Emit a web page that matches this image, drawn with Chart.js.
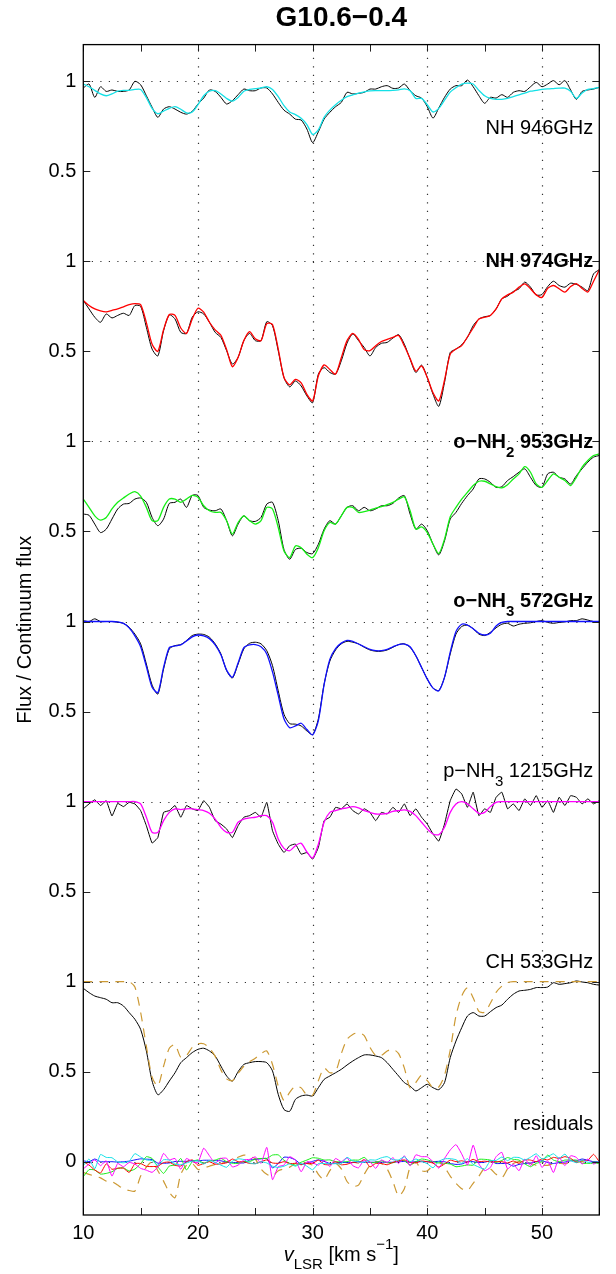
<!DOCTYPE html>
<html>
<head>
<meta charset="utf-8">
<script src="https://cdn.jsdelivr.net/npm/chart.js@4.4.0/dist/chart.umd.min.js"></script>
<style>
	body { margin: 0; background: #fff; }
	canvas { display: block; }
</style>
</head>
<body>
<canvas id="spectra" width="616" height="1274"></canvas>
<script>
const FONT = "'Liberation Sans', Arial, Helvetica, sans-serif";

// velocity grid (km/s)
const velocity = [
	10, 10.5, 11, 11.5, 12, 12.5, 13, 13.5, 14, 14.5,
	15, 15.5, 16, 16.5, 17, 17.5, 18, 18.5, 19, 19.5,
	20, 20.5, 21, 21.5, 22, 22.5, 23, 23.5, 24, 24.5,
	25, 25.5, 26, 26.5, 27, 27.5, 28, 28.5, 29, 29.5,
	30, 30.5, 31, 31.5, 32, 32.5, 33, 33.5, 34, 34.5,
	35, 35.5, 36, 36.5, 37, 37.5, 38, 38.5, 39, 39.5,
	40, 40.5, 41, 41.5, 42, 42.5, 43, 43.5, 44, 44.5,
	45, 45.5, 46, 46.5, 47, 47.5, 48, 48.5, 49, 49.5,
	50, 50.5, 51, 51.5, 52, 52.5, 53, 53.5, 54, 54.5,
	55
];

// NH 946GHz
const nh946Obs = [
	.963, .985, .911, .97, .944, .952, .944, .944, .952, 1.0,
	.981, .92, .856, .80, .846, .859, .846, .828, .818, .833,
	.874, .907, .952, .944, .911, .874, .893, .926, .957, .948,
	.948, .963, .963, .93, .883, .84, .818, .79, .785, .735,
	.66, .72, .79, .828, .859, .883, .939, .93, .933, .939,
	.957, .957, .97, .976, .961, .963, .985, .948, .92, .907,
	.859, .796, .852, .911, .957, .976, .976, 1.007, .97, .92,
	.878, .911, .907, .926, .911, .939, .948, .944, .97, .994,
	.97, .985, 1.004, .981, 1.004, .952, .90, .944, .952, .957,
	.967
];
const nh946Fit = [
	.985, .97, .95, .93, .92, .93, .945, .95, .95, .955,
	.955, .91, .85, .82, .835, .85, .86, .845, .825, .83,
	.87, .92, .945, .948, .93, .905, .89, .91, .945, .955,
	.96, .963, .97, .955, .915, .865, .83, .815, .795, .76,
	.705, .73, .80, .84, .87, .895, .915, .925, .935, .942,
	.947, .948, .948, .948, .95, .953, .958, .948, .905, .905,
	.87, .83, .85, .895, .94, .965, .985, .99, .985, .95,
	.92, .905, .90, .90, .905, .915, .925, .935, .945, .95,
	.955, .958, .96, .962, .962, .945, .905, .935, .955, .96,
	.967
];

// NH 974GHz
const nh974Obs = [
	.783, .736, .69, .662, .708, .686, .70, .712, .70, .755,
	.75, .634, .513, .475, .615, .703, .68, .606, .60, .69,
	.72, .708, .662, .606, .578, .504, .43, .467, .56, .60,
	.56, .56, .665, .643, .504, .355, .303, .336, .308, .253,
	.215, .374, .41, .383, .374, .448, .546, .597, .56, .522,
	.475, .522, .545, .55, .574, .593, .54, .457, .383, .424,
	.355, .262, .195, .327, .494, .513, .537, .578, .643, .68,
	.693, .699, .736, .792, .807, .833, .848, .885, .857, .814,
	.816, .86, .89, .866, .857, .879, .872, .857, .838, .931,
	.954
];
const nh974Fit = [
	.783, .755, .736, .725, .72, .728, .736, .748, .76, .766,
	.76, .66, .54, .50, .62, .705, .70, .63, .60, .68,
	.74, .718, .662, .62, .59, .51, .415, .467, .56, .61,
	.57, .56, .655, .65, .513, .355, .314, .345, .325, .262,
	.225, .365, .425, .40, .374, .465, .56, .60, .567, .51,
	.504, .532, .555, .567, .578, .588, .53, .46, .39, .42,
	.355, .27, .225, .34, .485, .513, .532, .58, .63, .68,
	.69, .70, .736, .792, .814, .829, .857, .875, .848, .814,
	.80, .85, .866, .848, .829, .86, .877, .85, .83, .89,
	.954
];

// o-NH2 953GHz
const oNH2Obs = [
	.597, .59, .541, .494, .513, .569, .625, .652, .656, .68,
	.686, .662, .578, .532, .569, .656, .662, .68, .634, .70,
	.70, .634, .619, .615, .625, .56, .476, .541, .587, .56,
	.556, .578, .652, .662, .56, .40, .346, .40, .407, .383,
	.377, .429, .513, .56, .541, .587, .634, .643, .615, .634,
	.615, .625, .643, .643, .656, .686, .699, .597, .513, .541,
	.504, .429, .37, .448, .569, .606, .656, .699, .736, .792,
	.792, .773, .745, .749, .783, .805, .829, .848, .801, .755,
	.745, .82, .829, .801, .792, .764, .81, .848, .885, .913,
	.922
];
const oNH2Fit = [
	.68, .634, .587, .563, .578, .625, .662, .686, .708, .721,
	.697, .634, .56, .56, .634, .68, .68, .662, .68, .70,
	.69, .643, .615, .606, .606, .56, .485, .55, .587, .56,
	.541, .56, .634, .625, .522, .392, .355, .42, .41, .374,
	.355, .41, .504, .55, .541, .587, .634, .634, .606, .61,
	.619, .63, .638, .649, .662, .68, .693, .615, .513, .526,
	.494, .429, .377, .457, .582, .634, .68, .717, .755, .779,
	.779, .764, .749, .742, .76, .792, .82, .86, .829, .764,
	.745, .783, .82, .801, .783, .755, .801, .857, .894, .922,
	.931
];

// o-NH3 572GHz
const oNH3Obs = [
	1.005, 1.0, 1.015, 1.0, 1.0, 1.0, .996, .99, .968, .93,
	.876, .764, .647, .597, .736, .848, .866, .872, .894, .922,
	.93, .928, .913, .876, .82, .727, .686, .764, .848, .879,
	.885, .876, .838, .755, .615, .485, .433, .43, .42, .392,
	.372, .46, .652, .78, .842, .876, .89, .885, .876, .857,
	.842, .835, .835, .842, .857, .872, .876, .857, .81, .745,
	.68, .63, .617, .69, .82, .93, .972, .98, .96, .93,
	.922, .94, .965, .985, .99, .975, .985, .99, .993, 1.0,
	1.005, .995, .99, .995, .998, 1.005, 1.005, 1.015, 1.008, 1.0,
	1.0
];
const oNH3Fit = [
	1, 1, 1, 1, 1, 1, .998, .99, .965, .92,
	.86, .75, .635, .605, .745, .855, .865, .87, .892, .915,
	.925, .92, .905, .87, .815, .73, .69, .77, .855, .87,
	.872, .86, .82, .72, .59, .46, .41, .42, .435, .40,
	.37, .45, .65, .79, .85, .88, .895, .89, .875, .86,
	.845, .838, .838, .845, .86, .872, .875, .86, .81, .745,
	.68, .63, .615, .69, .83, .945, .985, .98, .96, .935,
	.925, .935, .975, .995, 1, 1, 1, 1, 1, 1,
	1, 1, 1, 1, 1, 1, 1, 1, 1, 1,
	1
];

// p-NH3 1215GHz
const pNH3Obs = [
	.96, .987, 1.01, .978, 1.005, .92, .99, .972, .996, .987,
	.95, .866, .77, .80, .94, .95, .978, .913, .978, .96,
	.95, 1.005, .968, .894, .875, .848, .80, .866, .913, .922,
	.94, .913, .996, .838, .764, .717, .755, .764, .708, .717,
	.68, .745, .894, .913, .968, .96, .987, .95, .931, .96,
	.94, .894, .94, .931, .968, .94, .987, .922, .96, .913,
	.875, .82, .78, .875, 1.005, 1.07, 1.043, .968, 1.052, .922,
	.96, .94, 1.024, 1.052, .96, .987, .95, 1.015, .978, 1.033,
	.968, 1.005, .94, 1.024, .978, 1.033, 1.024, .987, 1.015, .987,
	1.005
];
const pNH3Fit = [
	1, 1, 1, 1, 1, 1, 1, 1, 1, 1,
	.987, .913, .829, .829, .894, .94, .96, .955, .96, .96,
	.955, .95, .935, .903, .857, .829, .829, .885, .903, .909,
	.913, .922, .922, .885, .792, .74, .727, .755, .768, .72,
	.686, .764, .885, .94, .95, .96, .965, .972, .965, .95,
	.94, .931, .931, .935, .946, .95, .954, .946, .922, .885,
	.848, .82, .816, .857, .94, .987, 1.0, .987, .96, .935,
	.94, .972, .996, 1, 1, 1, 1, 1, 1, 1,
	1, 1, 1, 1, 1, 1, 1, 1, 1, 1,
	1
];

// CH 533GHz
const chObs = [
	.963, .939, .92, .911, .902, .883, .883, .865, .828, .791,
	.735, .615, .448, .372, .40, .448, .494, .55, .578, .606,
	.624, .63, .615, .587, .531, .476, .448, .50, .54, .55,
	.556, .556, .55, .504, .374, .29, .28, .346, .365, .37,
	.365, .411, .457, .476, .494, .513, .537, .559, .578, .593,
	.593, .587, .578, .55, .513, .476, .439, .42, .393, .411,
	.43, .411, .40, .439, .578, .67, .744, .809, .828, .809,
	.809, .833, .856, .87, .902, .93, .948, .952, .957, .967,
	.967, .97, .994, .985, .989, .994, 1.004, .998, .994, .985,
	.981
];
const chFit = [
	1, 1, 1, 1, 1, 1, 1, 1, 1, .97,
	.83, .64, .47, .42, .53, .63, .65, .58, .59, .635,
	.655, .655, .63, .585, .51, .46, .45, .49, .53, .555,
	.575, .60, .615, .54, .42, .34, .385, .42, .41, .37,
	.37, .45, .52, .494, .50, .60, .68, .707, .717, .70,
	.635, .59, .59, .615, .625, .60, .52, .41, .44, .48,
	.45, .41, .415, .48, .62, .81, .92, .965, .91, .835,
	.83, .88, .94, .975, .995, 1, 1, 1, 1, 1,
	1, 1, 1, 1, 1, 1, 1, 1, 1, 1,
	1
];

// residuals
const resNH946 = [
	-.022, .015, -.039, .04, .024, .022, -.001, -.006, .002, .045,
	.026, .01, .006, -.02, .011, .009, -.014, -.017, -.007, .003,
	.004, -.013, .007, -.004, -.019, -.031, .003, .016, .012, -.007,
	-.012, 0, -.007, -.025, -.032, -.025, -.012, -.025, -.01, -.025,
	-.045, -.01, -.01, -.012, -.011, -.012, .024, .005, -.002, -.003,
	.01, .009, .022, .028, .011, .01, .027, 0, .015, .002,
	-.011, -.034, .002, .016, .017, .011, -.009, .017, -.015, -.03,
	-.042, .006, .007, .026, .006, .024, .023, .009, .025, .044,
	.015, .027, .044, .019, .042, .007, -.005, .009, -.003, -.003,
	0
];
const resNH974 = [
	0, -.019, -.046, -.063, -.012, -.042, -.036, -.036, -.06, -.011,
	-.01, -.026, -.027, -.025, -.005, -.002, -.02, -.024, 0, .01,
	-.02, -.01, 0, -.014, -.012, -.006, .015, 0, 0, -.01,
	-.01, 0, .01, -.007, -.009, 0, -.011, -.009, -.017, -.009,
	-.01, .009, -.015, -.017, 0, -.017, -.014, -.003, -.007, .012,
	-.029, -.01, -.01, -.017, -.004, .005, .01, -.003, -.007, .004,
	0, -.008, -.03, -.013, .009, 0, .005, -.002, .013, 0,
	.003, -.001, 0, 0, -.007, .004, -.009, .01, .009, 0,
	.016, .01, .024, .018, .028, .019, -.005, .007, .008, .041,
	0
];
const resONH2 = [
	-.083, -.044, -.046, -.069, -.065, -.056, -.037, -.034, -.052, -.041,
	-.011, .028, .018, -.028, -.065, -.024, -.018, .018, -.046, 0,
	.01, -.009, .004, .009, .019, 0, -.009, -.009, 0, 0,
	.015, .018, .018, .037, .038, .008, -.009, -.02, -.003, .009,
	.022, .019, .009, .01, 0, 0, 0, .009, .009, .024,
	-.004, -.005, .005, -.006, -.006, .006, .006, -.018, 0, .015,
	.01, 0, -.007, -.009, -.013, -.028, -.024, -.018, -.019, .013,
	.013, .009, -.004, .007, .023, .013, .009, -.012, -.028, -.009,
	0, .037, .009, 0, .009, .009, .009, -.009, -.009, -.009,
	-.009
];
const resONH3 = [
	.005, 0, .015, 0, 0, 0, -.002, 0, .003, .01,
	.016, .014, .012, -.008, -.009, -.007, .001, .002, .002, .007,
	.005, .008, .008, .006, .005, -.003, -.004, -.006, -.007, .009,
	.013, .016, .018, -.035, -.01, .025, .023, .01, -.015, -.008,
	.002, .01, .002, -.01, -.008, -.004, -.005, -.005, .001, -.003,
	-.003, -.003, -.003, -.003, -.003, 0, .001, -.003, 0, 0,
	0, 0, .002, 0, -.01, -.015, -.013, 0, 0, -.005,
	-.003, .005, -.01, -.01, -.01, -.025, -.015, -.01, -.007, 0,
	.005, -.005, -.01, -.005, -.002, .005, .005, .015, .008, 0,
	0
];
const resPNH3 = [
	-.04, -.013, .01, -.022, .005, -.08, -.01, -.028, -.004, -.013,
	-.037, -.047, -.059, -.029, .046, .01, .018, -.042, .018, 0,
	-.005, .075, .033, -.009, .018, .019, -.029, -.019, .01, .013,
	.027, -.009, .08, -.10, -.028, -.019, .028, .009, -.056, 0,
	-.006, -.019, .009, -.027, .018, 0, .022, -.022, -.034, .01,
	0, -.037, .009, -.004, .022, -.01, .033, -.024, .038, .028,
	.027, 0, -.036, .018, .065, .095, .043, -.019, .092, -.013,
	-.05, -.032, .028, .052, -.04, -.013, -.05, .015, -.022, .033,
	-.032, .005, -.06, .024, -.022, .033, .024, -.013, .015, -.013,
	.005
];
const resCH = [
	-.06, -.07, -.08, -.09, -.108, -.11, -.13, -.15, -.16, -.163,
	-.08, -.03, 0, -.05, -.108, -.17, -.20, -.07, -.02, -.01,
	-.043, -.035, -.025, -.015, -.01, 0, .01, .025, .037, .03,
	.015, -.04, -.07, -.08, -.05, -.04, -.03, -.01, -.005, -.01,
	-.02, -.07, -.10, -.05, -.01, -.04, -.11, -.136, -.13, -.07,
	-.02, 0, -.01, -.04, -.11, -.19, -.15, -.03, 0, -.05,
	-.05, -.02, 0, -.03, -.08, -.12, -.15, -.16, -.12, -.08,
	-.035, -.04, -.07, -.09, -.04, -.01, 0, 0, -.01, -.02,
	-.02, -.02, -.01, -.01, -.01, -.005, 0, 0, 0, 0,
	0
];

// axis ticks
const xTicks = [10, 15, 20, 25, 30, 35, 40, 45, 50, 55];
const xGrid = [20, 30, 40, 50];
const yTicks = [0, 0.5, 1, 1.5, 2, 2.5, 3, 3.5, 4, 4.5, 5, 5.5, 6];
const yGrid = [0, 1, 2, 3, 4, 5, 6];

// panel text
const panelLabels = [
	{ level: 6, dy: 47, bold: false, runs: [{ text: 'NH 946GHz' }] },
	{ level: 5, dy: 0, bold: true, runs: [{ text: 'NH 974GHz' }] },
	{ level: 4, dy: 1.5, bold: true, runs: [{ text: 'o\u2212NH' }, { text: '2', sub: true }, { text: ' 953GHz' }] },
	{ level: 3, dy: -20, bold: true, runs: [{ text: 'o\u2212NH' }, { text: '3', sub: true }, { text: ' 572GHz' }] },
	{ level: 2, dy: -30, bold: false, runs: [{ text: 'p\u2212NH' }, { text: '3', sub: true }, { text: ' 1215GHz' }] },
	{ level: 1, dy: -19, bold: false, runs: [{ text: 'CH 533GHz' }] },
	{ level: 0, dy: -37, bold: false, runs: [{ text: 'residuals' }] }
];
const xTitleRuns = [
	{ text: 'v', italic: true }, { text: 'LSR', sub: true },
	{ text: ' [km s' }, { text: '\u22121', sup: true }, { text: ']' }
];

function series(values, offset) {
	return values.map((v, i) => ({ x: velocity[i], y: v + offset }));
}

function line(label, values, offset, color, extra) {
	return Object.assign({
		label: label,
		data: series(values, offset),
		borderColor: color,
		borderWidth: 1,
		pointRadius: 0,
		tension: 0.25,
		fill: false
	}, extra || {});
}

function drawRuns(ctx, runs, x, y, bold, align) {
	const parts = runs.map(r => {
		const size = (r.sub || r.sup) ? 15 : 20;
		const font = (r.italic ? 'italic ' : '') + (bold ? 'bold ' : '') + size + 'px ' + FONT;
		ctx.font = font;
		return { text: r.text, font: font, w: ctx.measureText(r.text).width, dy: r.sub ? 10 : (r.sup ? -10 : 0) };
	});
	const total = parts.reduce((s, p) => s + p.w, 0);
	let cx = align === 'right' ? x - total : x - total / 2;
	ctx.textAlign = 'left';
	ctx.textBaseline = 'middle';
	ctx.fillStyle = '#000';
	for (const p of parts) {
		ctx.font = p.font;
		ctx.fillText(p.text, cx, y + p.dy);
		cx += p.w;
	}
}

const spectraFrame = {
	id: 'spectraFrame',
	beforeDatasetsDraw(chart) {
		const { ctx, chartArea: a, scales: { x, y } } = chart;
		ctx.save();
		ctx.strokeStyle = '#333';
		ctx.lineWidth = 1.2;
		ctx.setLineDash([1.2, 7.3]);
		for (const v of xGrid) {
			const px = Math.round(x.getPixelForValue(v)) + 0.5;
			ctx.beginPath(); ctx.moveTo(px, a.bottom); ctx.lineTo(px, a.top); ctx.stroke();
		}
		for (const v of yGrid) {
			const py = Math.round(y.getPixelForValue(v)) + 0.5;
			ctx.beginPath(); ctx.moveTo(a.left, py); ctx.lineTo(a.right, py); ctx.stroke();
		}
		ctx.restore();
	},
	afterDatasetsDraw(chart) {
		const { ctx, chartArea: a, scales: { x, y } } = chart;
		ctx.save();
		ctx.strokeStyle = '#222';
		ctx.lineWidth = 1;
		const tl = 7;
		ctx.beginPath();
		for (const v of yTicks) {
			const py = Math.round(y.getPixelForValue(v)) + 0.5;
			ctx.moveTo(a.left, py); ctx.lineTo(a.left + tl, py);
			ctx.moveTo(a.right, py); ctx.lineTo(a.right - tl, py);
		}
		for (const v of xTicks) {
			const px = Math.round(x.getPixelForValue(v)) + 0.5;
			ctx.moveTo(px, a.top); ctx.lineTo(px, a.top + tl);
			ctx.moveTo(px, a.bottom); ctx.lineTo(px, a.bottom - tl);
		}
		ctx.stroke();
		ctx.strokeStyle = '#000';
		ctx.lineWidth = 1.3;
		ctx.strokeRect(a.left, a.top, a.right - a.left, a.bottom - a.top);

		for (const p of panelLabels) {
			drawRuns(ctx, p.runs, a.right - 6, y.getPixelForValue(p.level) + p.dy, p.bold, 'right');
		}
		drawRuns(ctx, xTitleRuns, (a.left + a.right) / 2, 1255, false, 'center');
		ctx.restore();
	}
};

const dashed = { borderDash: [9, 7], borderWidth: 1.2 };

new Chart(document.getElementById('spectra'), {
	type: 'line',
	data: {
		datasets: [
			line('NH 946GHz', nh946Obs, 5, '#000', { order: 20 }),
			line('NH 946GHz fit', nh946Fit, 5, '#14e0e6', { order: 10, borderWidth: 1.3 }),
			line('NH 974GHz', nh974Obs, 4, '#000', { order: 20 }),
			line('NH 974GHz fit', nh974Fit, 4, '#ff0000', { order: 10, borderWidth: 1.3 }),
			line('o-NH2 953GHz', oNH2Obs, 3, '#000', { order: 20 }),
			line('o-NH2 953GHz fit', oNH2Fit, 3, '#14ee14', { order: 10, borderWidth: 1.3 }),
			line('o-NH3 572GHz', oNH3Obs, 2, '#000', { order: 20 }),
			line('o-NH3 572GHz fit', oNH3Fit, 2, '#1010ff', { order: 10, borderWidth: 1.3 }),
			line('p-NH3 1215GHz', pNH3Obs, 1, '#000', { order: 20, tension: 0.1 }),
			line('p-NH3 1215GHz fit', pNH3Fit, 1, '#ff00ff', { order: 10, borderWidth: 1.3 }),
			line('CH 533GHz', chObs, 0, '#000', { order: 20 }),
			line('CH 533GHz fit', chFit, 0, 'rgb(204,153,51)', Object.assign({ order: 10 }, dashed)),
			line('res CH', resCH, 0, 'rgb(204,153,51)', Object.assign({ order: 9 }, dashed)),
			line('res o-NH3', resONH3, 0, '#1010ff', { order: 8, tension: 0.15 }),
			line('res o-NH2', resONH2, 0, '#14ee14', { order: 7, tension: 0.15 }),
			line('res NH974', resNH974, 0, '#ff0000', { order: 6, tension: 0.15 }),
			line('res p-NH3', resPNH3, 0, '#ff00ff', { order: 5, tension: 0.15 }),
			line('res NH946', resNH946, 0, '#14e0e6', { order: 4, tension: 0.15 })
		]
	},
	options: {
		responsive: false,
		animation: false,
		devicePixelRatio: 1,
		events: [],
		layout: {
			padding: { left: 0, right: 16.7, top: 0, bottom: 0 }
		},
		scales: {
			x: {
				type: 'linear',
				position: 'bottom',
				min: 10,
				max: 55,
				grid: { display: false, drawTicks: false },
				border: { display: false },
				afterBuildTicks: s => { s.ticks = xTicks.map(v => ({ value: v })); },
				afterFit: s => { s.height = 59; },
				ticks: {
					autoSkip: false,
					maxRotation: 0,
					padding: 6,
					color: '#000',
					font: { family: FONT, size: 20 },
					callback: v => (v % 10 === 0 ? String(v) : '')
				}
			},
			y: {
				type: 'linear',
				min: -0.296,
				max: 6.204,
				grid: { display: false, drawTicks: false },
				border: { display: false },
				afterBuildTicks: s => { s.ticks = yTicks.map(v => ({ value: v })); },
				afterFit: s => { s.width = 83.3; },
				ticks: {
					autoSkip: false,
					padding: 7,
					color: '#000',
					font: { family: FONT, size: 20 },
					callback: v => (v === 0 ? '0' : (v % 1 === 0 ? '1' : '0.5'))
				},
				title: {
					display: true,
					text: 'Flux / Continuum flux',
					color: '#000',
					font: { family: FONT, size: 20 },
					padding: { top: 13, bottom: 0 }
				}
			}
		},
		plugins: {
			legend: { display: false },
			tooltip: { enabled: false },
			title: {
				display: true,
				text: 'G10.6\u22120.4',
				fullSize: false,
				color: '#000',
				font: { family: FONT, size: 28, weight: 'bold' },
				padding: { top: 1, bottom: 10 }
			}
		}
	},
	plugins: [spectraFrame]
});
</script>
</body>
</html>
